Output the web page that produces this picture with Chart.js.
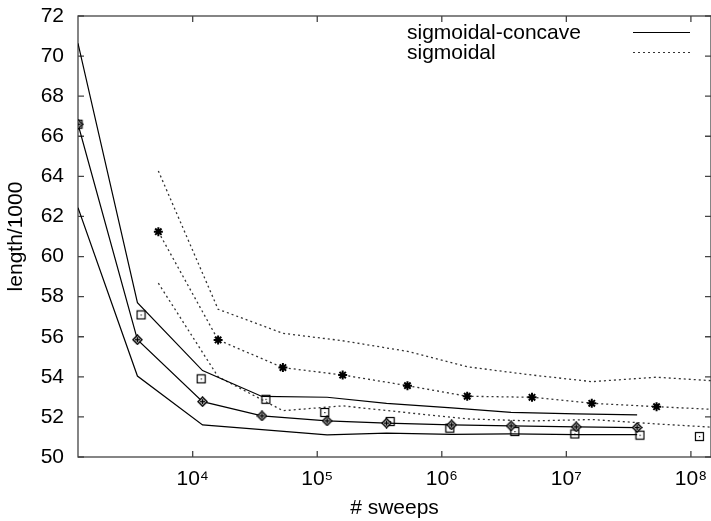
<!DOCTYPE html>
<html>
<head>
<meta charset="utf-8">
<script src="https://cdn.jsdelivr.net/npm/chart.js@4"></script>
<style>
  body { margin: 0; background: #fff; }
  #sweepChart { display: block; }
</style>
</head>
<body>
<canvas id="sweepChart" width="711" height="521"></canvas>
<script>
// sigmoidal-concave runs (solid lines)
const concaveX = [1200, 3600, 12000, 36000, 120000, 360000, 1.2e6, 3.6e6, 1.2e7, 3.7e7];
const concaveUpper = [70.64, 57.7, 54.31, 53.02, 52.98, 52.68, 52.45, 52.23, 52.15, 52.1];
const concaveMid = [66.6, 55.85, 52.76, 52.05, 51.8, 51.69, 51.6, 51.55, 51.5, 51.47];
const concaveLower = [62.44, 54.04, 51.6, 51.37, 51.1, 51.19, 51.13, 51.15, 51.12, 51.12];

// sigmoidal runs (dotted lines)
const sigX = [5300, 16000, 53000, 160000, 530000, 1.6e6, 5.3e6, 1.6e7, 5.3e7, 1.45e8];
const sigUpper = [64.27, 57.37, 56.17, 55.8, 55.27, 54.5, 54.09, 53.76, 53.98, 53.81];
const sigMid = [61.24, 55.84, 54.46, 54.09, 53.56, 53.03, 52.98, 52.68, 52.51, 52.38];
const sigLower = [58.67, 54.0, 52.31, 52.55, 52.21, 51.9, 51.8, 51.87, 51.65, 51.49];

// boxed points
const boxX = [1200, 3850, 11700, 38700, 115000, 385000, 1.16e6, 3.86e6, 1.17e7, 3.9e7, 1.17e8];
const boxY = [66.6, 57.09, 53.9, 52.88, 52.22, 51.77, 51.44, 51.27, 51.15, 51.09, 51.02];

const xTicks = [1e4, 1e5, 1e6, 1e7, 1e8];
const legendLabels = ["sigmoidal-concave", "sigmoidal"];

const FONT = "'Liberation Sans', Arial, Helvetica, sans-serif";
const sup = { 0: "⁰", 1: "¹", 2: "²", 3: "³", 4: "⁴", 5: "⁵", 6: "⁶", 7: "⁷", 8: "⁸", 9: "⁹" };

function pts(xs, ys) {
    return xs.map((x, i) => ({ x: x, y: ys[i] }));
}

function marker(kind) {
    const c = document.createElement("canvas");
    c.width = 11;
    c.height = 11;
    const g = c.getContext("2d");
    g.strokeStyle = "#000";
    g.fillStyle = "#fff";
    g.lineWidth = 1.2;
    if (kind === "box") {
        g.fillRect(1.5, 1.5, 8, 8);
        g.strokeRect(1.5, 1.5, 8, 8);
        g.fillStyle = "#000";
        g.fillRect(5, 5, 1.2, 1.2);
    } else {
        g.lineWidth = 1.5;
        g.beginPath();
        g.moveTo(5.5, 1);
        g.lineTo(10, 5.5);
        g.lineTo(5.5, 10);
        g.lineTo(1, 5.5);
        g.closePath();
        g.fill();
        g.stroke();
        g.beginPath();
        g.moveTo(3, 5.5);
        g.lineTo(8, 5.5);
        g.moveTo(5.5, 3);
        g.lineTo(5.5, 8);
        g.stroke();
    }
    return c;
}

const framePlugin = {
    id: "frame",
    beforeDatasetsDraw(chart) {
        const { ctx, chartArea: a, scales } = chart;
        ctx.save();
        ctx.strokeStyle = "#444";
        ctx.lineWidth = 1.3;
        ctx.strokeRect(a.left, a.top, a.right - a.left, a.bottom - a.top);
        ctx.beginPath();
        scales.y.ticks.forEach((t) => {
            const py = scales.y.getPixelForValue(t.value);
            ctx.moveTo(a.left, py);
            ctx.lineTo(a.left + 6, py);
            ctx.moveTo(a.right, py);
            ctx.lineTo(a.right - 6, py);
        });
        xTicks.forEach((v) => {
            const px = scales.x.getPixelForValue(v);
            ctx.moveTo(px, a.bottom);
            ctx.lineTo(px, a.bottom - 6);
            ctx.moveTo(px, a.top);
            ctx.lineTo(px, a.top + 6);
        });
        ctx.stroke();
        ctx.restore();
    },
    afterDraw(chart) {
        const ctx = chart.ctx;
        ctx.save();
        ctx.font = "21px " + FONT;
        ctx.fillStyle = "#000";
        ctx.textBaseline = "middle";
        ctx.fillText(legendLabels[0], 407, 33);
        ctx.fillText(legendLabels[1], 407, 53);
        ctx.strokeStyle = "#000";
        ctx.lineWidth = 1.2;
        ctx.beginPath();
        ctx.moveTo(633, 32.5);
        ctx.lineTo(690, 32.5);
        ctx.stroke();
        ctx.strokeStyle = "#333";
        ctx.setLineDash([2, 3]);
        ctx.beginPath();
        ctx.moveTo(633, 52.5);
        ctx.lineTo(690, 52.5);
        ctx.stroke();
        ctx.restore();
    },
};

const solid = { borderColor: "#000", borderWidth: 1.2, pointRadius: 0, fill: false, tension: 0 };
const dotted = { borderColor: "#333", borderWidth: 1.3, borderDash: [2, 3], pointRadius: 0, fill: false, tension: 0 };

new Chart(document.getElementById("sweepChart").getContext("2d"), {
    type: "line",
    data: {
        datasets: [
            { ...solid, label: "concave upper", data: pts(concaveX, concaveUpper) },
            { ...solid, label: "concave mid", data: pts(concaveX, concaveMid), pointRadius: 5, pointStyle: marker("diamond") },
            { ...solid, label: "concave lower", data: pts(concaveX, concaveLower) },
            { ...dotted, label: "sig upper", data: pts(sigX, sigUpper) },
            {
                ...dotted, label: "sig mid", data: pts(sigX.slice(0, 9), sigMid.slice(0, 9)),
                pointRadius: 4.5, pointStyle: "star", pointBorderColor: "#000", pointBorderWidth: 2,
            },
            { ...dotted, label: "sig mid tail", data: pts(sigX.slice(8), sigMid.slice(8)) },
            { ...dotted, label: "sig lower", data: pts(sigX, sigLower) },
            {
                label: "boxes", data: pts(boxX, boxY), showLine: false,
                pointRadius: 5, pointStyle: marker("box"),
            },
        ],
    },
    options: {
        responsive: false,
        animation: false,
        devicePixelRatio: 1,
        layout: { autoPadding: false, padding: { top: 16, right: 0, bottom: 0, left: 0 } },
        plugins: {
            legend: { display: false },
            tooltip: { enabled: false },
        },
        scales: {
            x: {
                type: "logarithmic",
                min: 1200,
                max: 1.45e8,
                afterBuildTicks: (scale) => {
                    scale.ticks = xTicks.map((v) => ({ value: v }));
                },
                afterFit: (scale) => {
                    scale.height = 64;
                    scale.paddingLeft = 0;
                    scale.paddingRight = 0;
                },
                grid: { display: false, drawTicks: false },
                border: { display: false },
                ticks: {
                    color: "#000",
                    padding: 10,
                    maxRotation: 0,
                    autoSkip: false,
                    font: { family: FONT, size: 21 },
                    callback: (v) => "10" + String(Math.round(Math.log10(v))).split("").map((d) => sup[d]).join(""),
                },
                title: {
                    display: true,
                    text: "# sweeps",
                    color: "#000",
                    font: { family: FONT, size: 21 },
                    padding: { top: 2, bottom: 0 },
                },
            },
            y: {
                min: 50,
                max: 72,
                afterFit: (scale) => {
                    scale.width = 78;
                    scale.paddingTop = 0;
                    scale.paddingBottom = 0;
                },
                grid: { display: false, drawTicks: false },
                border: { display: false },
                ticks: {
                    stepSize: 2,
                    color: "#000",
                    padding: 14,
                    font: { family: FONT, size: 21 },
                },
                title: {
                    display: true,
                    text: "length/1000",
                    color: "#000",
                    font: { family: FONT, size: 21 },
                    padding: { top: 4, bottom: 11.5 },
                },
            },
        },
    },
    plugins: [framePlugin],
});
</script>
</body>
</html>
